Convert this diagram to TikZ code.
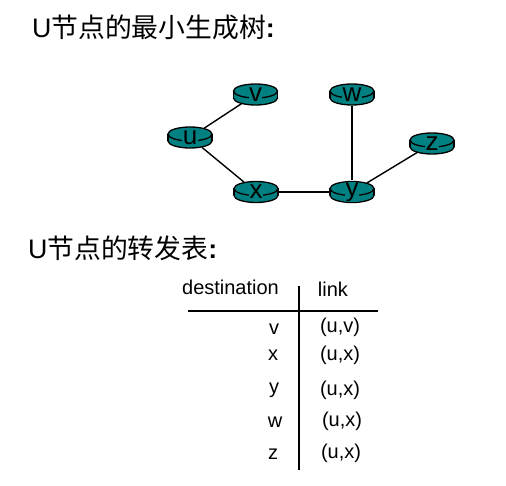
\documentclass[tikz,border=0pt]{standalone}
\usepackage{fontspec}
\setmainfont{Liberation Sans}
\newfontfamily\cjk{Noto Sans CJK SC}
\usetikzlibrary{shapes.geometric}
\definecolor{routerteal}{HTML}{008080}
\tikzset{
    routerbody/.style={draw=black, line width=1.3pt, fill=routerteal},
    routerhit/.style={ellipse, minimum width=46pt, minimum height=23pt, inner sep=0pt},
    routertext/.style={fill=routerteal, inner sep=0.3pt, font=\fontsize{26}{26}\selectfont},
    link/.style={line width=1.4pt, black},
    heading/.style={anchor=west, inner sep=0pt, font=\fontsize{26.8}{27}\selectfont},
    cell/.style={inner sep=0pt, font=\fontsize{20}{20}\selectfont}
}
% name, x, y, letter
\newcommand{\routernode}[4]{
    \node[routerhit] (#1) at (#2, #3) {};
    \filldraw[routerbody] (#2, #3+3.5) ellipse [x radius=22, y radius=7];
    \fill[routerteal] (#2-22, #3-3.5) rectangle (#2+22, #3+3.5);
    \draw[routerbody] (#2-22, #3-3.5) -- (#2-22, #3+3.5) (#2+22, #3-3.5) -- (#2+22, #3+3.5);
    \filldraw[routerbody] (#2, #3-3.5) ellipse [x radius=22, y radius=7];
    \node[routertext] (#1text) at (#2, #3) {#4};
}
\begin{document}
\begin{tikzpicture}[x=1pt, y=-1pt]
    \useasboundingbox (0, 0) rectangle (506, 486);

    % Headings
    \node[heading] (treetitle) at (32, 27) {U{\cjk 节点的最小生成树}\textbf{:}};
    \node[heading] (tabletitle) at (28, 248) {U{\cjk 节点的转发表}\textbf{:}};

    % Spanning tree
    \routernode{u}{190}{137.5}{u}
    \routernode{v}{255.5}{94.5}{v}
    \routernode{w}{352}{94.5}{w}
    \routernode{z}{432}{143.5}{z}
    \routernode{x}{256}{192}{x}
    \routernode{y}{352}{192}{y}
    \draw[link] (u) -- (v);
    \draw[link] (u) -- (x);
    \draw[link] (x) -- (y);
    \draw[link] (y) -- (w);
    \draw[link] (y) -- (z);

    % Table rules
    \coordinate (ruleleft) at (188, 311);
    \coordinate (ruleright) at (378, 311);
    \coordinate (ruletop) at (299, 286);
    \coordinate (rulebottom) at (299, 470);
    \draw[link] (ruleleft) -- (ruleright);
    \draw[link] (ruletop) -- (rulebottom);

    % Table head
    \node[cell] (desthead) at (230.5, 287) {destination};
    \node[cell] (linkhead) at (333, 289) {link};

    % Table rows
    \node[cell] (dv) at (274, 329) {v};
    \node[cell] (lv) at (340, 327) {(u,v)};
    \node[cell] (dx) at (273, 355) {x};
    \node[cell] (lx) at (340, 355) {(u,x)};
    \node[cell] (dy) at (274, 390) {y};
    \node[cell] (ly) at (340, 390) {(u,x)};
    \node[cell] (dw) at (275, 422) {w};
    \node[cell] (lw) at (342, 421) {(u,x)};
    \node[cell] (dz) at (273, 454) {z};
    \node[cell] (lz) at (341, 453) {(u,x)};
\end{tikzpicture}
\end{document}
